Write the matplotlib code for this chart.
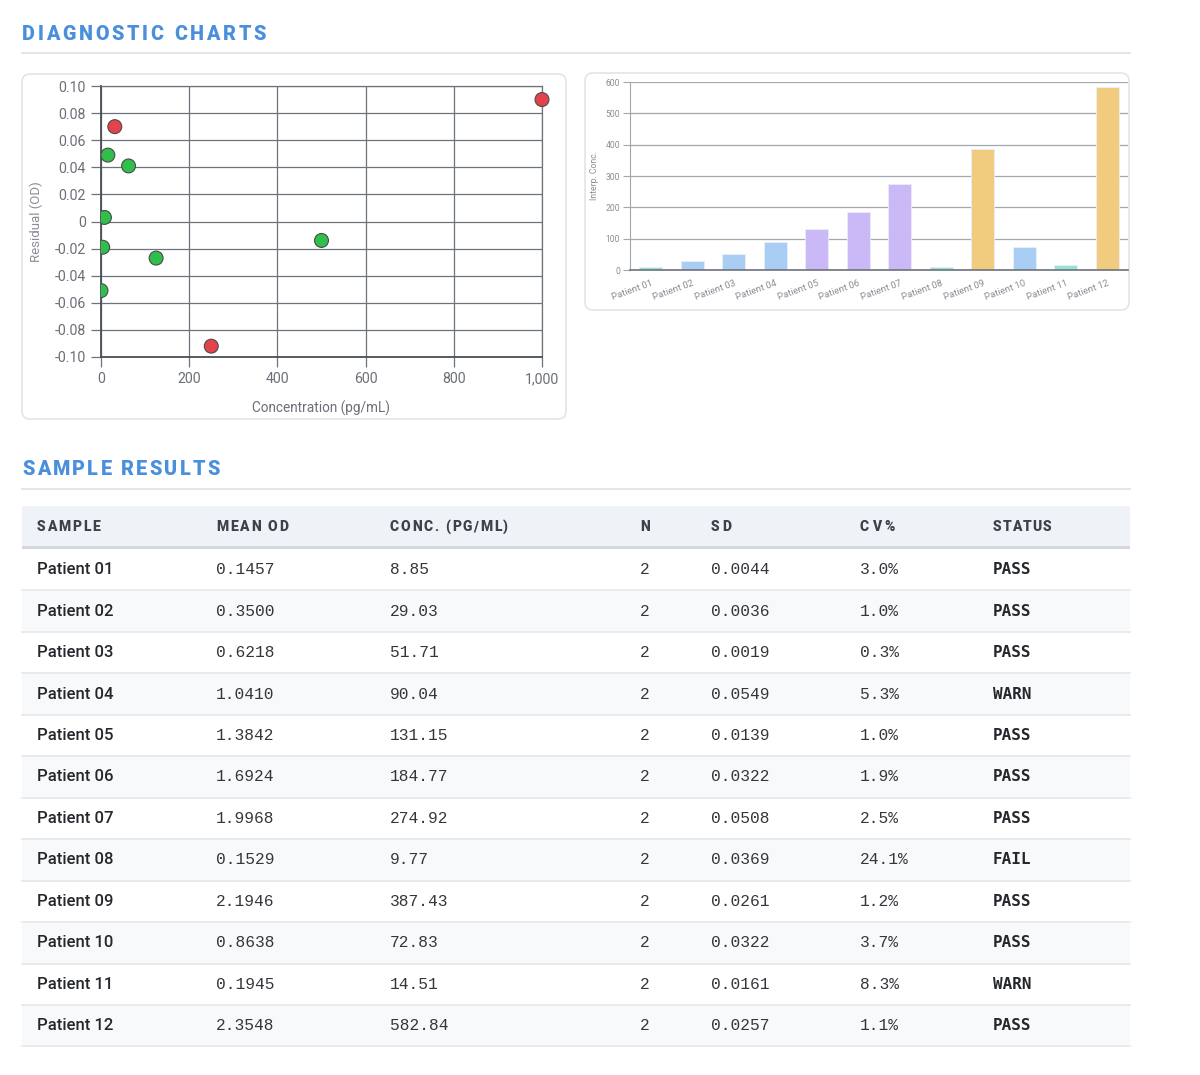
import matplotlib
matplotlib.use("Agg")
import matplotlib.pyplot as plt
from matplotlib.patches import FancyBboxPatch, Rectangle
import numpy as np

# ---------------- data ----------------
std_conc = [0, 3.9, 7.8, 15.6, 31.3, 62.5, 125, 250, 500, 1000]
std_resid = [-0.051, -0.019, 0.003, 0.049, 0.070, 0.041, -0.027, -0.092, -0.014, 0.090]
resid_limit = 0.06

samples = ["Patient 01", "Patient 02", "Patient 03", "Patient 04", "Patient 05", "Patient 06",
           "Patient 07", "Patient 08", "Patient 09", "Patient 10", "Patient 11", "Patient 12"]
mean_od = ["0.1457", "0.3500", "0.6218", "1.0410", "1.3842", "1.6924",
           "1.9968", "0.1529", "2.1946", "0.8638", "0.1945", "2.3548"]
conc = [8.85, 29.03, 51.71, 90.04, 131.15, 184.77, 274.92, 9.77, 387.43, 72.83, 14.51, 582.84]
n_rep = [2] * 12
sd = ["0.0044", "0.0036", "0.0019", "0.0549", "0.0139", "0.0322",
      "0.0508", "0.0369", "0.0261", "0.0322", "0.0161", "0.0257"]
cv = ["3.0%", "1.0%", "0.3%", "5.3%", "1.0%", "1.9%", "2.5%", "24.1%", "1.2%", "3.7%", "8.3%", "1.1%"]
status = ["PASS", "PASS", "PASS", "WARN", "PASS", "PASS", "PASS", "FAIL", "PASS", "PASS", "WARN", "PASS"]

headers = ["SAMPLE", "MEAN OD", "CONC. (PG/ML)", "N", "SD", "CV%", "STATUS"]
scatter_yticks = [0.10, 0.08, 0.06, 0.04, 0.02, 0, -0.02, -0.04, -0.06, -0.08, -0.10]
scatter_ytick_labels = ["0.10", "0.08", "0.06", "0.04", "0.02", "0", "-0.02", "-0.04", "-0.06", "-0.08", "-0.10"]
scatter_xticks = [0, 200, 400, 600, 800, 1000]
scatter_xtick_labels = ["0", "200", "400", "600", "800", "1,000"]
bar_yticks = [0, 100, 200, 300, 400, 500, 600]

# ---------------- figure ----------------
W, H = 1200, 1075
fig = plt.figure(figsize=(W / 100, H / 100), dpi=100)
fig.patch.set_facecolor("white")

bg = fig.add_axes([0, 0, 1, 1], zorder=-5)
bg.set_xlim(0, W)
bg.set_ylim(H, 0)
bg.axis("off")

renderer = fig.canvas.get_renderer()


def text_w(s, **kw):
    t = bg.text(0, 0, s + "|", **kw)
    w1 = t.get_window_extent(renderer).width
    t.remove()
    t = bg.text(0, 0, "|", **kw)
    w0 = t.get_window_extent(renderer).width
    t.remove()
    return w1 - w0


def spaced(x, y, s, target_w, **kw):
    nat = text_w(s, **kw)
    sp = (target_w - nat) / max(len(s) - 1, 1)
    for i, ch in enumerate(s):
        if ch == " ":
            continue
        xi = x + (text_w(s[:i], **kw) if i else 0) + i * sp
        bg.text(xi, y, ch, ha="left", va="baseline", **kw)


BLUE_T = "#4a8fdc"
LINE = "#e3e6ea"

# section titles
spaced(22, 39.5, "DIAGNOSTIC CHARTS", 244, fontsize=14.2, fontweight="black",
       family="Roboto", color=BLUE_T)
bg.plot([22, 1130], [53, 53], color=LINE, lw=1.5)
spaced(22, 475, "SAMPLE RESULTS", 198, fontsize=14.2, fontweight="black",
       family="Roboto", color=BLUE_T)
bg.plot([22, 1130], [489, 489], color=LINE, lw=1.5)

# cards
for (x0, y0, x1, y1) in [(22, 74, 566, 419), (585, 73, 1129, 310)]:
    bg.add_patch(FancyBboxPatch((x0, y0), x1 - x0, y1 - y0,
                                boxstyle="round,pad=0,rounding_size=8",
                                facecolor="white", edgecolor="#e2e5e9", lw=1.2))

# ---------------- scatter (residuals) ----------------
sx0, sx1, sy0, sy1 = 101, 542, 86, 357
ax1 = fig.add_axes([sx0 / W, 1 - sy1 / H, (sx1 - sx0) / W, (sy1 - sy0) / H])
ax1.set_facecolor("none")
ax1.set_xlim(0, 1000)
ax1.set_ylim(-0.10, 0.10)
ax1.set_xticks(scatter_xticks)
ax1.set_xticklabels(scatter_xtick_labels)
ax1.set_yticks(scatter_yticks)
ax1.set_yticklabels(scatter_ytick_labels)
ax1.grid(True, color="#6e727a", lw=0.9)
ax1.set_axisbelow(True)
for side, sp_ in ax1.spines.items():
    sp_.set_color("#6e727a")
    sp_.set_linewidth(0.9)
ax1.spines["left"].set_color("#4a4e56")
ax1.spines["left"].set_linewidth(1.3)
ax1.spines["bottom"].set_color("#4a4e56")
ax1.spines["bottom"].set_linewidth(1.3)
ax1.tick_params(axis="both", colors="#6e727a", labelcolor="#6b6f78", length=7, width=0.9,
                labelsize=10.2, pad=4)
for lab in ax1.get_xticklabels() + ax1.get_yticklabels():
    lab.set_family("Roboto")
pt_colors = ["#e5434b" if abs(r) > resid_limit else "#2fbf4a" for r in std_resid]
sc = ax1.scatter(std_conc, std_resid, s=100, c=pt_colors, edgecolors="#4a4a4a",
                 linewidths=0.8, zorder=3)
sc.set_clip_path(Rectangle((0, -0.1), 1.1, 1.2, transform=ax1.transAxes))
ax1.set_xlabel("Concentration (pg/mL)", fontsize=9.8, color="#6b6f78", family="Roboto", labelpad=10)
ax1.set_ylabel("Residual (OD)", fontsize=9.5, color="#8a8e96", family="Roboto", labelpad=8)

# ---------------- bar (interpolated conc) ----------------
bx0, bx1, by0, by1 = 630, 1128, 82, 270
ax2 = fig.add_axes([bx0 / W, 1 - by1 / H, (bx1 - bx0) / W, (by1 - by0) / H])
ax2.set_facecolor("none")


def bar_color(v):
    if v < 20:
        return "#93e3d7"
    if v < 100:
        return "#a9cdf3"
    if v < 300:
        return "#cbb8f6"
    return "#f1cb7e"


xpos = np.arange(len(samples))
ax2.bar(xpos, conc, width=0.56, color=[bar_color(v) for v in conc],
        edgecolor="#e9eefb", linewidth=0.6, zorder=2)
ax2.set_xlim(-0.5, len(samples) - 0.5)
ax2.set_ylim(0, 600)
ax2.set_yticks(bar_yticks)
ax2.set_xticks(xpos)
ax2.set_xticklabels(samples, rotation=20, ha="right", rotation_mode="anchor")
ax2.yaxis.grid(True, color="#a3a7ae", lw=0.9)
ax2.set_axisbelow(True)
for s_ in ["top", "right"]:
    ax2.spines[s_].set_visible(False)
ax2.spines["left"].set_color("#a3a7ae")
ax2.spines["bottom"].set_color("#6e727a")
ax2.spines["bottom"].set_linewidth(1.2)
ax2.tick_params(axis="y", colors="#a3a7ae", labelcolor="#8a8e96", length=5, labelsize=6.2, pad=2)
ax2.tick_params(axis="x", length=0, labelcolor="#8a8e96", labelsize=6.8, pad=6)
for lab in ax2.get_xticklabels() + ax2.get_yticklabels():
    lab.set_family("Roboto")
ax2.set_ylabel("Interp. Conc.", fontsize=6.2, color="#8a8e96", family="Roboto", labelpad=5)

# ---------------- table ----------------
tx0, tx1 = 22, 1130
bg.add_patch(Rectangle((tx0, 506), tx1 - tx0, 40, facecolor="#eff2f6", edgecolor="none"))
bg.add_patch(Rectangle((tx0, 546), tx1 - tx0, 3, facecolor="#d3d8df", edgecolor="none"))

col_x = [37, 216, 390, 640, 711, 860, 993]
head_w = [63, 72, 118, 10, 20, 35, 58]
hkw = dict(fontsize=10, fontweight="black", family="Roboto", color="#3d4149")
for x, h, tw in zip(col_x, headers, head_w):
    if len(h) > 1:
        spaced(x, 531, h, tw, **hkw)
    else:
        bg.text(x, 531, h, ha="left", va="baseline", **hkw)

row_top0 = 549
row_h = 41.45
mono = dict(family="Liberation Mono", fontsize=11.7, color="#33363b")
for i in range(len(samples)):
    top = row_top0 + i * row_h
    if i % 2 == 1:
        bg.add_patch(Rectangle((tx0, top), tx1 - tx0, row_h, facecolor="#f8f9fb", edgecolor="none"))
    bg.plot([tx0, tx1], [top + row_h, top + row_h], color="#e6e9ed", lw=1.3)
    yc = top + row_h / 2
    bg.text(col_x[0], yc, samples[i], ha="left", va="center", family="Roboto",
            fontweight="medium", fontsize=12, color="#24272c")
    bg.text(col_x[1], yc, mean_od[i], ha="left", va="center", **mono)
    bg.text(col_x[2], yc, f"{conc[i]:.2f}", ha="left", va="center", **mono)
    bg.text(col_x[3], yc, str(n_rep[i]), ha="left", va="center", **mono)
    bg.text(col_x[4], yc, sd[i], ha="left", va="center", **mono)
    bg.text(col_x[5], yc, cv[i], ha="left", va="center", **mono)
    bg.text(col_x[6], yc, status[i], ha="left", va="center", family="DejaVu Sans Mono",
            fontweight="bold", fontsize=11.5, color="#24272c")

fig.savefig("out.png", dpi=100, facecolor="white")
